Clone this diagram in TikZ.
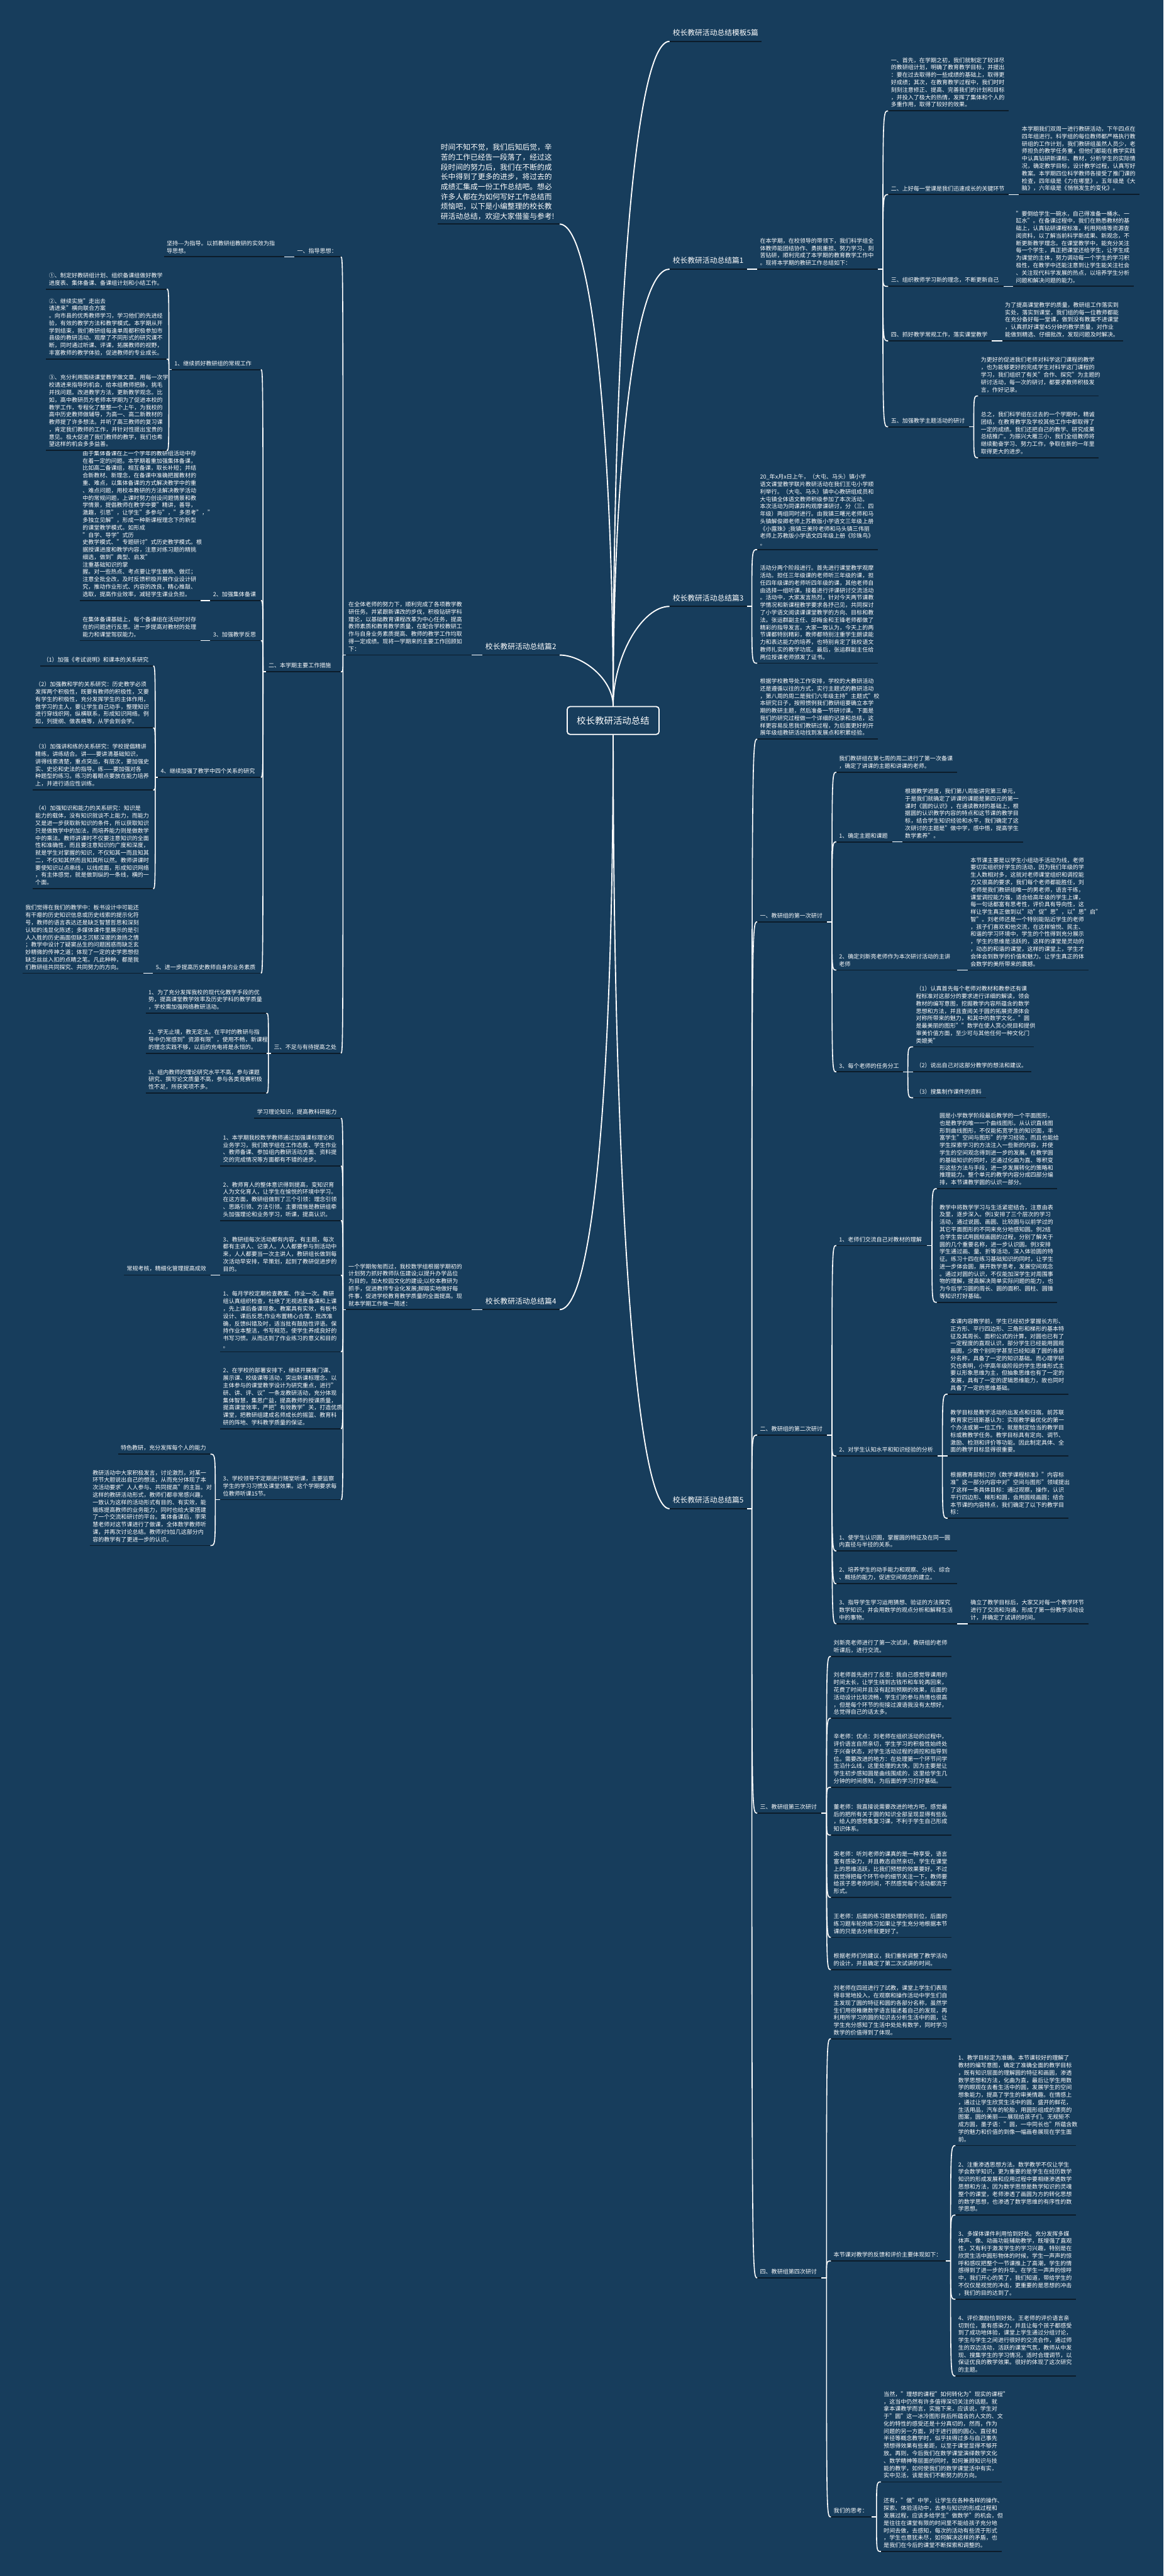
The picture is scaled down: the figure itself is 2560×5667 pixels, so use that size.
\documentclass[tikz,border=0pt]{standalone}
\usepackage{fontspec}
\setmainfont{Noto Sans CJK SC}
\usetikzlibrary{calc}
\definecolor{bgblue}{RGB}{23,61,92}
\definecolor{ulblue}{RGB}{12,28,42}

\tikzset{
  txt/.style={anchor=south west, inner xsep=6pt, inner ysep=7.5pt, align=left, text=white,
    font={\fontsize{12.5}{16.3}\selectfont}, text width=253pt},
  txtl/.style={txt, anchor=south east},
  lbl/.style={anchor=south west, inner xsep=7pt, inner ysep=11pt, text=white,
    font={\fontsize{16.3}{21.7}\selectfont}},
  lbll/.style={lbl, anchor=south east},
  uline/.style={line width=2.5pt, draw=ulblue},
  link/.style={line width=2.2pt, draw=white},
  trunk/.style={line width=2.6pt, draw=white}
}

% fan out from a parent to its children (right and left side)
\newcommand\fanR[2]{%
  \coordinate (j#1) at ($(#1.south east)+(11,0)$);
  \draw[link] (#1.south east) -- (j#1);
  \foreach \ch in {#2} \draw[link] (j#1) .. controls (j#1 |- \ch.south west) .. (\ch.south west);
}
\newcommand\fanL[3][6]{%
  \coordinate (j#2) at ($(#2.south west)+(-#1,0)$);
  \draw[link] (#2.south west) -- (j#2);
  \foreach \ch in {#3} \draw[link] (j#2) .. controls (j#2 |- \ch.south east) .. (\ch.south east);
}

\begin{document}
\begin{tikzpicture}[x=1pt,y=-1pt]
    \useasboundingbox (0,0) rectangle (2560,5667);
    \fill[bgblue] (0,0) rectangle (2560,5667);

    % Root
    \node[draw=white, line width=2.5pt, rounded corners=6pt, text=white, minimum width=202pt,
      minimum height=61pt, font={\fontsize{20}{24}\selectfont}] (root) at (1349,1585) {校长教研活动总结};

    % Branch labels
    \node[lbl] (b0) at (1473,91) {校长教研活动总结模板5篇};
    \node[lbl] (b1) at (1473,592) {校长教研活动总结篇1};
    \node[lbl] (b3) at (1473,1334) {校长教研活动总结篇3};
    \node[lbl] (b5) at (1473,3319) {校长教研活动总结篇5};
    \node[lbll] (b2) at (1231,1441) {校长教研活动总结篇2};
    \node[lbll] (b4) at (1231,2881) {校长教研活动总结篇4};
    \node[lbll, inner ysep=9pt, align=left, text width=255pt, inner xsep=6pt] (lead) at (1231,493) {时间不知不觉，我们后知后觉，辛\\苦的工作已经告一段落了，经过这\\段时间的努力后，我们在不断的成\\长中得到了更多的进步，将过去的\\成绩汇集成一份工作总结吧。想必\\许多人都在为如何写好工作总结而\\烦恼吧，以下是小编整理的校长教\\研活动总结，欢迎大家借鉴与参考!};

    \draw[trunk] (root.north) .. controls +(0,-500) and +(80,0) .. (lead.south east);
    \draw[trunk] (root.north) .. controls +(0,-800) and +(-80,0) .. (b0.south west);
    \draw[trunk] (root.north) .. controls +(0,-500) and +(-80,0) .. (b1.south west);
    \draw[trunk] (root.north) .. controls +(0,-110) and +(-60,0) .. (b3.south west);
    \draw[trunk] (root.north) .. controls +(0,-60) and +(50,0) .. (b2.south east);
    \draw[trunk] (root.south) .. controls +(0,700) and +(80,0) .. (b4.south east);
    \draw[trunk] (root.south) .. controls +(0,900) and +(-80,0) .. (b5.south west);

    % ---------- 篇1 ----------
    \node[txt] (p1) at (1666,592) {在本学期，在校领导的带领下，我们科学组全\\体教师能团结协作、勇挑重担、努力学习、刻\\苦钻研，顺利完成了本学期的教育教学工作中\\。现将本学期的教研工作总结如下：};
    \node[txt] (p1a) at (1954,244) {一、首先，在学期之初，我们就制定了较详尽\\的教研组计划，明确了教育教学目标，并提出\\：要在过去取得的一些成绩的基础上，取得更\\好成绩；其次，在教育教学过程中，我们时时\\刻刻注意修正、提高、完善我们的计划和目标\\，并投入了极大的热情，发挥了集体和个人的\\多重作用，取得了较好的效果。};
    \node[txt] (p1b) at (1954,428) {二、上好每一堂课是我们迅速成长的关键环节};
    \node[txt] (p1b1) at (2242,428) {本学期我们双周一进行教研活动，下午四点在\\四年组进行。科学组的每位教师都严格执行教\\研组的工作计划，我们教研组虽然人员少，老\\师担负的教学任务重，但他们都能在教学实践\\中认真钻研新课标、教材，分析学生的实际情\\况，确定教学目标，设计教学过程，认真写好\\教案。本学期四位科学教师各接受了推门课的\\检查，四年级是《力在哪里》，五年级是《大\\脑》，六年级是《悄悄发生的变化》。};
    \node[txt, text width=242pt] (p1c) at (1954,630) {三、组织教师学习新的理念，不断更新自己};
    \node[txt] (p1c1) at (2229,630) {"要倒给学生一碗水，自己得准备一桶水、一\\缸水"。在备课过程中，我们在熟悉教材的基\\础上，认真钻研课程标准，利用网络等资源查\\阅资料，以了解当前科学新成果、新观念，不\\断更新教学理念。在课堂教学中，能充分关注\\每一个学生，真正把课堂还给学生，让学生成\\为课堂的主体，努力调动每一个学生的学习积\\极性，在教学中还能注意到让学生能关注社会\\、关注现代科学发展的热点，以培养学生分析\\问题和解决问题的能力。};
    \node[txt, text width=215pt] (p1d) at (1954,750) {四、抓好教学常规工作，落实课堂教学};
    \node[txt] (p1d1) at (2205,750) {为了提高课堂教学的质量，教研组工作落实到\\实处，落实到课堂，我们组的每一位教师都能\\在充分备好每一堂课，做到没有教案不进课堂\\，认真抓好课堂45分钟的教学质量，对作业\\能做到精选、仔细批改，发现问题及时解决。};
    \node[txt, text width=165pt] (p1e) at (1954,939) {五、加强教学主题活动的研讨};
    \node[txt] (p1e1) at (2152,871) {为更好的促进我们老师对科学这门课程的教学\\，也为能够更好的完成学生对科学这门课程的\\学习，我们组织了有关"合作、探究"为主题的\\研讨活动，每一次的研讨，都要求教师积极发\\言，作好记录。};
    \node[txt] (p1e2) at (2152,1007) {总之，我们科学组在过去的一个学期中，精诚\\团结，在教育教学及学校其他工作中都取得了\\一定的成绩。我们还把自己的教学、研究成果\\总结推广。为振兴大雁三小，我们全组教师将\\继续勤奋学习、努力工作，争取在新的一年里\\取得更大的进步。};

    % ---------- 篇3 ----------
    \node[txt] (p3a) at (1666,1209) {20\_年x月x日上午，（大屯、马头）镇小学\\语文课堂教学联片教研活动在我们王屯小学顺\\利举行。（大屯、马头）镇中心教研组成员和\\大屯镇全体语文教师积级参加了本次活动。\\本次活动为同课异构观摩课研讨，分（三、四\\年级）两组同时进行。由我镇三曙光老师和马\\头镇解俊卿老师上苏教版小学语文三年级上册\\《小露珠》;我镇三美玲老师和马头镇三伟丽\\老师上苏教版小学语文四年级上册《珍珠鸟》\\。};
    \node[txt] (p3b) at (1666,1459) {活动分两个阶段进行。首先进行课堂教学观摩\\活动。担任三年级课的老师听三年级的课，担\\任四年级课的老师听四年级的课，其他老师自\\由选择一组听课。接着进行评课研讨交流活动\\。活动中，大家发言热烈，针对今天两节课教\\学情况和新课程教学要求各抒己见，共同探讨\\了小学语文阅读课课堂教学的方向、目标和教\\法。张运群副主任、邱梅金和王锋老师都做了\\精彩的指导发言。大家一致认为，今天上的两\\节课都特别精彩，教师都特别注重学生朗读能\\力和表达能力的培养，也特别肯定了我校语文\\教师扎实的教学功底。最后，张运群副主任给\\两位授课老师颁发了证书。};

    % ---------- 篇5 ----------
    \node[txt] (p5a) at (1666,1626) {根据学校教导处工作安排，学校的大教研活动\\还是遵循以往的方式，实行主题式的教研活动\\，第八周的周二是我们六年级主持"主题式"校\\本研究日子，按照惯例我们教研组要确立本学\\期的教研主题，然后准备一节研讨课。下面是\\我们的研究过程做一个详细的记录和总结，这\\样更容易反思我们教研过程，为后面更好的开\\展年级组教研活动找到发展点和积累经验。};
    \node[txt, text width=141pt] (p5b) at (1666,2028) {一、教研组的第一次研讨};
    \node[txt, text width=141pt] (p5c) at (1666,3157) {二、教研组的第二次研讨};
    \node[txt, text width=129pt] (p5d) at (1666,3989) {三、教研组第三次研讨};
    \node[txt, text width=129pt] (p5e) at (1666,5011) {四、教研组第四次研讨};

    % first meeting
    \node[txt] (p5b1) at (1840,1699) {我们教研组在第七周的周二进行了第一次备课\\，确定了讲课的主题和讲课的老师。};
    \node[txt, text width=111pt] (p5b2) at (1840,1852) {1、确定主题和课题};
    \node[txt] (p5b2a) at (1985,1852) {根据教学进度，我们第八周能讲完第三单元，\\于是我们就确定了讲课的课题是第四元的第一\\课时《圆的认识》，在通读教材的基础上，根\\据圆的认识教学内容的特点和这节课的教学目\\标，结合学生知识经验和水平，我们确定了这\\次研讨的主题是"做中学，感中悟，提高学生\\数学素养"。};
    \node[txt] (p5b3) at (1840,2134) {2、确定刘新亮老师作为本次研讨活动的主讲\\老师};
    \node[txt] (p5b3a) at (2129,2134) {本节课主要是以学生小组动手活动为线，老师\\要切实组织好学生的活动，因为我们年级的学\\生人数相对多，这就对老师课堂组织和调控能\\力又很高的要求，我们每个老师都能胜任，刘\\老师是我们教研组唯一的男老师，语言干练，\\课堂调控能力强，适合给高年级的学生上课，\\每一句话都富有思考性，评价具有导向性，这\\样让学生真正做到以"动"促"思"，以"思"启"\\智"。刘老师还是一个特别能贴近学生的老师\\，孩子们喜欢和他交流，在这样愉悦、民主、\\和谐的学习环境中，学生的个性得到充分展示\\，学生的思维是活跃的，这样的课堂是灵动的\\，动态的和谐的课堂，这样的课堂上，学生才\\会体会到数学的价值和魅力。让学生真正的体\\会数学的美所带来的震撼。};
    \node[txt, text width=134pt] (p5b4) at (1840,2358) {3、每个老师的任务分工};
    \node[txt] (p5b4a) at (2009,2303) {（1）认真首先每个老师对教材和教参还有课\\程标准对这部分的要求进行详细的解读，领会\\教材的编写意图，挖掘教学内容所蕴含的数学\\思想和方法，并且查阅关于圆的拓展资源体会\\对称所带来的魅力，和其中的数学文化，"圆\\是最美丽的图形""数学在使人赏心悦目和提供\\审美价值方面，至少可与其他任何一种文化门\\类媲美"};
    \node[txt, text width=248pt] (p5b4b) at (2009,2358) {（2）说出自己对这部分教学的想法和建议。};
    \node[txt, text width=148pt] (p5b4c) at (2009,2415) {（3）搜集制作课件的资料};

    % second meeting
    \node[txt, text width=187pt] (p5c1) at (1840,2740) {1、老师们交流自己对教材的理解};
    \node[txt] (p5c1a) at (2061,2615) {圆是小学数学阶段最后教学的一个平面图形，\\也是教学的唯一一个曲线图形。从认识直线图\\形到曲线图形，不仅能拓宽学生的知识面，丰\\富学生"空间与图形"的学习经验，而且也能给\\学生探索学习的方法注入一些新的内容，并使\\学生的空间观念得到进一步的发展。在教学圆\\的基础知识的同时，还通过化曲为直、等积变\\形这些方法与手段，进一步发展转化的策略和\\推理能力。整个单元的教学内容分成四部分编\\排，本节课教学圆的认识一部分。};
    \node[txt] (p5c1b) at (2061,2865) {教学中将数学学习与生活紧密结合，注意由表\\及里，逐步深入。例1安排了三个层次的学习\\活动，通过说圆、画圆、比较圆与以前学过的\\其它平面图形的不同来充分地感知圆。例2结\\合学生尝试用圆规画圆的过程，分别了解关于\\圆的几个重要名称，进一步认识圆。例3安排\\学生通过画、量、折等活动，深入体验圆的特\\征。练习十四在练习基础知识的同时，让学生\\进一步体会圆，展开数学思考，发展空间观念\\。通过对圆的认识，不仅能加深学生对周围事\\物的理解，提高解决简单实际问题的能力，也\\为今后学习圆的周长、圆的面积、圆柱、圆锥\\等知识打好基础。};
    \node[txt, text width=210pt] (p5c2) at (1840,3203) {2、对学生认知水平和知识经验的分析};
    \node[txt] (p5c2a) at (2085,3067) {本课内容教学前，学生已经初步掌握长方形、\\正方形、平行四边形、三角形和梯形的基本特\\征及其周长、面积公式的计算，对圆也已有了\\一定程度的直观认识，部分学生已经能用圆规\\画圆，少数个别同学甚至已经知道了圆的各部\\分名称，具备了一定的知识基础。而心理学研\\究也表明，小学高年级阶段的学生思维形式主\\要以形象思维为主，但抽象思维也有了一定的\\发展，具有了一定的逻辑思维能力，故也同时\\具备了一定的思维基础。};
    \node[txt] (p5c2b) at (2085,3203) {教学目标是教学活动的出发点和归宿。前苏联\\教育家巴班斯基认为：实现教学最优化的第一\\个办法或第一位工作，就是制定恰当的教学目\\标或教教学任务。教学目标具有定向、调节、\\激励、检测和评价等功能。因此制定具体、全\\面的教学目标显得很重要。};
    \node[txt] (p5c2c) at (2085,3340) {根据教育部制订的《数学课程标准》"内容标\\准"这一部分内容中对"空间与图形"领域提出\\了这样一条具体目标：通过观察，操作，认识\\平行四边形、梯形和圆，会用圆规画圆；结合\\本节课的内容特点，我们确定了以下的教学目\\标：};
    \node[txt] (p5c3) at (1840,3412) {1、使学生认识圆，掌握圆的特征及在同一圆\\内直径与半径的关系。};
    \node[txt] (p5c4) at (1840,3484) {2、培养学生的动手能力和观察、分析、综合\\、概括的能力，促进空间观念的建立。};
    \node[txt] (p5c5) at (1840,3572) {3、指导学生学习运用猜想、验证的方法探究\\数学知识，并会用数学的观点分析和解释生活\\中的事物。};
    \node[txt] (p5c5a) at (2129,3572) {确立了教学目标后，大家又对每一个教学环节\\进行了交流和沟通，形成了第一份教学活动设\\计，并确定了试讲的时间。};

    % third meeting
    \node[txt] (p5d1) at (1828,3644) {刘新亮老师进行了第一次试讲，教研组的老师\\听课后，进行交流。};
    \node[txt] (p5d2) at (1828,3780) {刘老师首先进行了反思：我自己感觉导课用的\\时间太长，让学生绕到古钱币和车轮再回来，\\花费了时间并且没有起到预期的效果，后面的\\活动设计比较流畅，学生们的参与热情也很高\\，但是每个环节的衔接过渡语我没有太想好，\\总觉得自己的话太多。};
    \node[txt] (p5d3) at (1828,3932) {辛老师：优点：刘老师在组织活动的过程中，\\评价语言自然亲切，学生学习的积极性始终处\\于兴奋状态，对学生活动过程的调控和指导到\\位。需要改进的地方：在处理第一个环节问学\\生沿什么线，这里处理的太快，因为主要是让\\学生初步感知圆是曲线围成的，这里给学生几\\分钟的时间感知，为后面的学习打好基础。};
    \node[txt] (p5d4) at (1828,4037) {董老师：我直接说需要改进的地方吧，感觉最\\后的把所有关于圆的知识全部呈现显得有些乱\\，给人的感觉象复习课，不利于学生自己形成\\知识体系。};
    \node[txt] (p5d5) at (1828,4174) {宋老师：听刘老师的课真的是一种享受，语言\\富有感染力，并且教态自然亲切，学生在课堂\\上的思维活跃，比我们预想的效果要好。不过\\我觉得把每个环节中的细节关注一下，教师要\\给孩子思考的时间，不然感觉每个活动都流于\\形式。};
    \node[txt] (p5d6) at (1828,4262) {王老师：后面的练习题处理的很到位，后面的\\练习题车轮的练习如果让学生充分地根据本节\\课的只是去分析就更好了。};
    \node[txt] (p5d7) at (1828,4333) {根据老师们的建议，我们重新调整了教学活动\\的设计，并且确定了第二次试讲的时间。};

    % fourth meeting
    \node[txt] (p5e1) at (1828,4485) {刘老师在四班进行了试教，课堂上学生们表现\\得非常地投入，在观察和操作活动中学生们自\\主发现了圆的特征和圆的各部分名称，虽然学\\生们用很稚嫩数学语言描述着自己的发现，再\\利用所学习的圆的知识去分析生活中的圆，让\\学生充分感知了生活中处处有数学，同时学习\\数学的价值得到了体现。};
    \node[txt, text width=240pt] (p5e2) at (1828,4974) {本节课对教学的反馈和评价主要体现如下：};
    \node[txt] (p5e2a) at (2102,4720) {1、教学目标定为准确。本节课较好的理解了\\教材的编写意图，确定了准确全面的教学目标\\，既有知识层面的理解圆的特征和画圆，渗透\\数学思想和方法，化曲为直，最后让学生用数\\学的眼观在去看生活中的圆，发展学生的空间\\想象能力，提高了学生的审美情趣。在情感上\\，通过让学生欣赏生活中的圆，盛开的鲜花，\\生活用品，汽车的轮胎，用圆形组成的漂亮的\\图案，圆的美丽——展现给孩子们。无规矩不\\成方圆，墨子语："圆，一中同长也"所蕴含数\\学的魅力和价值的到像一幅画卷展现在学生面\\前。};
    \node[txt] (p5e2b) at (2102,4873) {2、注重渗透思想方法。数学教学不仅让学生\\学会数学知识，更为重要的是学生在经历数学\\知识的形成发展和应用过程中要相继渗透数学\\思想和方法，因为数学思想是数学知识的灵魂\\整个的课堂，老师渗透了画圆为方的转化思想\\的数学思想，也渗透了数学思维的有序性的数\\学思想。};
    \node[txt] (p5e2c) at (2102,5058) {3、多媒体课件利用恰到好处。充分发挥多媒\\体声、像、动画功能辅助教学，既增强了直观\\性，又有利于激发学生的学习兴趣，特别是在\\欣赏生活中圆形物体的时候，学生一声声的惊\\呼和感叹把整个一节课推上了高潮，学生的情\\感得到了进一步的升华。在学生一声声的惊呼\\中，我们开心的笑了，我们知道，带给学生的\\不仅仅是视觉的冲击，更重要的是思想的冲击\\，我们的目的达到了。};
    \node[txt] (p5e2d) at (2102,5227) {4、评价激励恰到好处。王老师的评价语言亲\\切到位，富有感染力，并且让每个孩子都感受\\到了成功地体验，课堂上学生通过分组讨论，\\学生与学生之间进行很好的交流合作，通过师\\生的双边活动，活跃的课堂气氛，教师从中发\\现、搜集学生的学习情况，适时合理调节，以\\保证优良的教学效果。很好的体现了这次研究\\的主题。};
    \node[txt, text width=77pt] (p5e3) at (1828,5537) {我们的思考：};
    \node[txt] (p5e3a) at (1938,5460) {当然，"理想的课程"如何转化为"现实的课程"\\，这当中仍然有许多值得深切关注的话题。就\\拿本课教学而言，实施下来，应该说，学生对\\于"圆"这一冰冷图形背后所蕴含的人文的、文\\化的特性的感受还是十分真切的，然而，作为\\问题的另一方面，对于进行圆的圆心、直径和\\半径等概念教学时，似乎扶得过多与自己事先\\预想得效果有些差距，以至于课堂显得不够开\\放。再则，今后我们在数学课堂演绎数学文化\\、数学精神等层面的同时，如何兼顾知识与技\\能的教学，如何使我们的数学课堂活中有实，\\实中见活，该是我们不断努力的方向。};
    \node[txt] (p5e3b) at (1938,5613) {还有，"做"中学，让学生在各种各样的操作、\\探索、体验活动中，去参与知识的形成过程和\\发展过程，应该多给学生"做数学"的机会，但\\是往往在课堂有限的时间里不能给孩子充分地\\时间去做，去感知，每次的活动有些流于形式\\，学生也意犹未尽，如何解决这样的矛盾，也\\是我们在今后的课堂不断探索和调整的。};

    % ---------- 篇2 ----------
    \node[txtl, text width=264pt] (q2) at (1037,1441) {在全体老师的努力下，顺利完成了各项教学教\\研任务。并紧跟新课改的步伐，积极钻研学科\\理论，以基础教育课程改革为中心任务，提高\\教师素质和教育教学质量，在配合学校教研工\\作与自身业务素质提高、教师的教学工作均取\\得一定成绩。现将一学期来的主要工作回顾如\\下：};
    \node[txtl, text width=90pt] (q2a) at (750,565) {一、指导思想：};
    \node[txtl] (q2a1) at (626,565) {坚持-{}-{}-为指导。以抓教研组教研的实效为指\\导思想。};
    \node[txtl, text width=153pt] (q2b) at (750,1478) {二、本学期主要工作措施};
    \node[txtl, text width=184pt] (q2b1) at (574,813) {1、继续抓好教研组的常规工作};
    \node[txtl] (q2b1a) at (367,636) {①、制定好教研组计划、组织备课组做好教学\\进度表、集体备课、备课组计划和小结工作。};
    \node[txtl] (q2b1b) at (367,790) {②、继续实施"走出去 请进来"横向联合方案\\。向市县的优秀教师学习，学习他们的先进经\\验，有效的教学方法和教学模式。本学期从开\\学到结束，我们教研组每逢单周都积极参加市\\县级的教研活动。观摩了不同形式的研究课不\\断，同时通过听课、评课，拓展教师的视野，\\丰富教师的教学体验，促进教师的专业成长。};
    \node[txtl] (q2b1c) at (367,991) {③、充分利用围绕课堂教学做文章。用每一次学\\校请进来指导的机会，给本组教师把脉，挑毛\\并找问题。改进教学方法，更新教学观念。比\\如，高中教研员方老师本学期为了促进本校的\\教学工作，专程化了整整一个上午，为我校的\\高中历史教师做辅导，为高一、高二新教材的\\教师提了许多想法。并听了高三教师的复习课\\，肯定我们教师的工作，并针对性提出宝贵的\\意见。极大促进了我们教师的教学，我们也希\\望这样的机会多多益善。};
    \node[txtl, text width=99pt] (q2b2) at (574,1321) {2、加强集体备课};
    \node[txtl] (q2b2a) at (441,1321) {由于集体备课在上一个学年的教研组活动中存\\在着一定的问题。本学期着重加强集体备课，\\比如高二备课组，相互备课，取长补短；并结\\合新教材、新理念，在备课中准确把握教材的\\重、难点，以集体备课的方式解决教学中的重\\、难点问题，用校本教研的方法解决教学活动\\中的常规问题，上课时努力创设问题情景和教\\学情景，提倡教师在教学中要"精讲，善导，\\激趣，引思"，让学生"多参与"，"多思考"，"\\多独立见解"，形成一种新课程理念下的新型\\的课堂教学模式。如形成 "自学、导学"式历\\史教学模式、"专题研讨"式历史教学模式。根\\据授课进度和教学内容，注意对练习题的精挑\\细选，做到"典型、启发" 注重基础知识的掌\\握。对一些热点、考点要让学生做熟、做烂；\\注意全批全改，及时反馈积极开展作业设计研\\究，推动作业形式、内容的改良，精心推敲、\\选取，提高作业效率，减轻学生课业负担。};
    \node[txtl, text width=99pt] (q2b3) at (574,1409) {3、加强教学反思};
    \node[txtl] (q2b3a) at (441,1409) {在集体备课基础上，每个备课组在活动时对存\\在的问题进行反思。进一步提高对教材的处理\\能力和课堂驾驭能力。};
    \node[txtl, text width=214pt] (q2b4) at (574,1710) {4、继续加强了教学中四个关系的研究};
    \node[txtl, text width=236pt] (q2b4a) at (337,1465) {（1）加强《考试说明》和课本的关系研究};
    \node[txtl] (q2b4b) at (337,1601) {（2）加强教和学的关系研究：历史教学必须\\发挥两个积极性，既要有教师的积极性，又要\\有学生的积极性，充分发挥学生的主体作用，\\做学习的主人，要让学生自己动手，整理知识\\进行穿线织网，纵横联系，形成知识网络。例\\如，列提纲、做表格等，从学会到会学。};
    \node[txtl] (q2b4c) at (337,1738) {（3）加强讲和练的关系研究：学校提倡精讲\\精练，讲练结合。讲——要讲清基础知识，\\讲得线索清楚，重点突出，有层次，要加强史\\实、史论和史法的指导。练——要加强对各\\种题型的练习。练习的着眼点要放在能力培养\\上，并进行适应性训练。};
    \node[txtl] (q2b4d) at (337,1955) {（4）加强知识和能力的关系研究：知识是\\能力的载体，没有知识就谈不上能力，而能力\\又是进一步获取新知识的条件，所以获取知识\\只是做数学中的加法，而培养能力则是做数学\\中的乘法。教师讲课时不仅要注意知识的全面\\性和准确性，而且要注意知识的广度和深度，\\就是学生对掌握的知识，不仅知其一而且知其\\二，不仅知其然而且知其所以然。教师讲课时\\要使知识以点串线，以线成面，形成知识网络\\，有主体感觉，就是做到纵的一条线，横的一\\个面。};
    \node[txtl, text width=225pt] (q2b5) at (574,2141) {5、进一步提高历史教师自身的业务素质};
    \node[txtl] (q2b5a) at (315,2141) {我们觉得在我们的教学中：板书设计中可能还\\有干瘪的历史知识信息或历史线索的提示化符\\号，教师的语言表达还是缺乏智慧哲思和深刻\\认知的浅显化陈述；多媒体课件里展示的是引\\人入胜的历史画面但缺乏沉郁深邃的激扬之情\\；教学中设计了疑窦丛生的问题困惑而缺乏玄\\妙精微的传神之道；体现了一定的史学思想但\\缺乏丝丝入扣的点睛之笔。凡此种种，都是我\\们教研组共同探究、共同努力的方向。};
    \node[txtl, text width=141pt] (q2c) at (750,2317) {三、不足与有待提高之处};
    \node[txtl] (q2c1) at (586,2229) {1、为了充分发挥我校的现代化教学手段的优\\势，提高课堂教学效率及历史学科的教学质量\\，学校需加强网络教研活动。};
    \node[txtl] (q2c2) at (586,2317) {2、学无止境，教无定法。在平时的教研与指\\导中仍常感到"资源有限"，使用不畅，新课程\\的理念实践不够，以后的充电将是永恒的。};
    \node[txtl] (q2c3) at (586,2405) {3、组内教师的理论研究水平不高，参与课题\\研究、撰写论文质量不高，参与各类竞赛积极\\性不足，所获奖项不多。};

    % ---------- 篇4 ----------
    \node[txtl, text width=264pt] (q4) at (1037,2881) {一个学期匆匆而过，我校数学组根据学期初的\\计划努力抓好教师队伍建设;以提升办学品位\\为目的，加大校园文化的建设;以校本教研为\\抓手，促进教师专业化发展;脚踏实地做好每\\件事，促进学校教育教学质量的全面提高。现\\就本学期工作做一简述：};
    \node[txtl, text width=178pt] (q4a) at (750,2460) {学习理论知识，提高教科研能力};
    \node[txtl] (q4b) at (750,2565) {1、本学期我校数学教师通过加强课标理论和\\业务学习，我们数学组在工作态度、学生作业\\、教师备课、参加组内教研活动方面、资料提\\交的完成情况等方面都有不错的进步。};
    \node[txtl] (q4c) at (750,2685) {2、教师育人的整体意识得到提高，变知识育\\人为文化育人，让学生在愉悦的环境中学习。\\在这方面，教研组做到了三个引领：理念引领\\、思路引领、方法引领。主要措施是教研组牵\\头加强理论和业务学习，听课，提高认识。};
    \node[txtl] (q4d) at (750,2805) {3、教研组每次活动都有内容，有主题，每次\\都有主讲人、记录人。人人都要参与到活动中\\来，人人都要当一次主讲人，教研组长做到每\\次活动早安排，早策划，起到了教研促进步的\\目的。};
    \node[txtl, text width=178pt] (q4d1) at (463,2805) {常规考核，精细化管理提高成效};
    \node[txtl] (q4e) at (750,2974) {1、每月学校定期检查教案、作业一次。教研\\组认真组织检查，杜绝了无视进度备课和上课\\，先上课后备课现象。教案具有实效，有板书\\设计、课后反思;作业布置精心合理，批改准\\确，反馈纠错及时，适当批有鼓励性评语。保\\持作业本整洁，书写规范，使学生养成良好的\\书写习惯。从而达到了作业练习的意义和目的\\。};
    \node[txtl] (q4f) at (750,3143) {2、在学校的部署安排下，继续开展推门课、\\展示课、校级课等活动，突出新课标理念、以\\主体参与的课堂教学设计为研究重点，进行"\\研、讲、评、议"一条龙教研活动，充分体现\\集体智慧，集思广益，提高教师的授课质量，\\提高课堂效率，严把"有效教学"关，打造优质\\课堂，把教研组建成名师成长的摇篮、教育科\\研的阵地、学科教学质量的保证。};
    \node[txtl] (q4g) at (750,3299) {3、学校领导不定期进行随堂听课，主要监察\\学生的学习习惯及课堂效果。这个学期要求每\\位教师听课15节。};
    \node[txtl, text width=191pt] (q4g1) at (463,3199) {特色教研，充分发挥每个人的能力};
    \node[txtl] (q4g2) at (463,3400) {教研活动中大家积极发言，讨论激烈，对某一\\环节大胆说出自己的想法，从而充分体现了本\\次活动要求"人人参与、共同提高"的主旨。对\\这样的教研活动形式，教师们都非常感兴趣，\\一致认为这样的活动形式有目的、有实效，能\\锻炼提高教师的业务能力，同时也给大家搭建\\了一个交流和研讨的平台。集体备课后，李荣\\慧老师对这节课进行了做课，全体数学教师听\\课，并再次讨论总结。教师对9加几这部分内\\容的教学有了更进一步的认识。};

    % underlines
    \foreach \n in {b0,b1,b3,b5,b2,b4,lead,p1,p1a,p1b,p1b1,p1c,p1c1,p1d,p1d1,p1e,p1e1,p1e2,
      p3a,p3b,p5a,p5b,p5c,p5d,p5e,p5b1,p5b2,p5b2a,p5b3,p5b3a,p5b4,p5b4a,p5b4b,p5b4c,
      p5c1,p5c1a,p5c1b,p5c2,p5c2a,p5c2b,p5c2c,p5c3,p5c4,p5c5,p5c5a,
      p5d1,p5d2,p5d3,p5d4,p5d5,p5d6,p5d7,p5e1,p5e2,p5e2a,p5e2b,p5e2c,p5e2d,p5e3,p5e3a,p5e3b,
      q2,q2a,q2a1,q2b,q2b1,q2b1a,q2b1b,q2b1c,q2b2,q2b2a,q2b3,q2b3a,q2b4,q2b4a,q2b4b,q2b4c,q2b4d,
      q2b5,q2b5a,q2c,q2c1,q2c2,q2c3,q4,q4a,q4b,q4c,q4d,q4d1,q4e,q4f,q4g,q4g1,q4g2}
      \draw[uline] (\n.south west) -- (\n.south east);

    % connectors, right side
    \draw[link] (b1.south east) -- (p1.south west);
    \fanR{p1}{p1a,p1b,p1c,p1d,p1e}
    \draw[link] (p1b.south east) -- (p1b1.south west);
    \draw[link] (p1c.south east) -- (p1c1.south west);
    \draw[link] (p1d.south east) -- (p1d1.south west);
    \fanR{p1e}{p1e1,p1e2}
    \fanR{b3}{p3a,p3b}
    \fanR{b5}{p5a,p5b,p5c,p5d,p5e}
    \fanR{p5b}{p5b1,p5b2,p5b3,p5b4}
    \draw[link] (p5b2.south east) -- (p5b2a.south west);
    \draw[link] (p5b3.south east) -- (p5b3a.south west);
    \fanR{p5b4}{p5b4a,p5b4c}
    \draw[link] (jp5b4) -- (p5b4b.south west);
    \fanR{p5c}{p5c1,p5c2,p5c3,p5c4,p5c5}
    \fanR{p5c1}{p5c1a,p5c1b}
    \fanR{p5c2}{p5c2a,p5c2c}
    \draw[link] (jp5c2) -- (p5c2b.south west);
    \draw[link] (p5c5.south east) -- (p5c5a.south west);
    \fanR{p5d}{p5d1,p5d2,p5d3,p5d4,p5d5,p5d6,p5d7}
    \fanR{p5e}{p5e1,p5e2,p5e3}
    \fanR{p5e2}{p5e2a,p5e2b,p5e2c,p5e2d}
    \fanR{p5e3}{p5e3a,p5e3b}

    % connectors, left side
    \draw[link] (b2.south west) -- (q2.south east);
    \fanL{q2}{q2a,q2b,q2c}
    \draw[link] (q2a.south west) -- (q2a1.south east);
    \fanL{q2b}{q2b1,q2b2,q2b3,q2b4,q2b5}
    \fanL{q2b1}{q2b1a,q2b1b,q2b1c}
    \draw[link] (q2b2.south west) -- (q2b2a.south east);
    \draw[link] (q2b3.south west) -- (q2b3a.south east);
    \fanL{q2b4}{q2b4a,q2b4b,q2b4c,q2b4d}
    \draw[link] (q2b5.south west) -- (q2b5a.south east);
    \fanL{q2c}{q2c1,q2c3}
    \draw[link] (jq2c) -- (q2c2.south east);
    \draw[link] (b4.south west) -- (q4.south east);
    \fanL{q4}{q4a,q4b,q4c,q4d,q4e,q4f,q4g}
    \draw[link] (q4d.south west) -- (q4d1.south east);
    \fanL[11]{q4g}{q4g1,q4g2}
\end{tikzpicture}
\end{document}
